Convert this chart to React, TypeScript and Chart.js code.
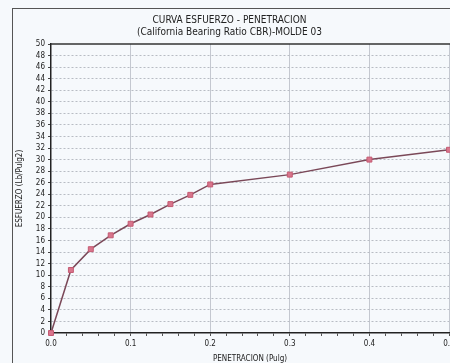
import React, { useEffect, useRef } from "react";
import { Chart, registerables } from "chart.js";

Chart.register(...registerables);

// Penetration (in) and stress (lb/in²) readings for mould 03
const penetracion = [0, 0.025, 0.05, 0.075, 0.1, 0.125, 0.15, 0.175, 0.2, 0.3, 0.4, 0.5];
const esfuerzo = [0, 10.9, 14.5, 16.9, 18.9, 20.5, 22.3, 23.9, 25.7, 27.4, 30.0, 31.7];

const tituloLineas = ["CURVA ESFUERZO - PENETRACION", "(California Bearing Ratio CBR)-MOLDE 03"];
const tituloX = "PENETRACION (Pulg)";
const tituloY = "ESFUERZO (Lb/Pulg2)";

const FONT = "'Liberation Sans Narrow', 'Arial Narrow', 'DejaVu Sans Condensed', sans-serif";
const BG = "#f6f9fc";

const isMajor = (v: number) => Math.abs(v * 10 - Math.round(v * 10)) < 1e-6;

// Dark outline along the top of the plotting area
const plotFrame = {
  id: "plotFrame",
  afterDraw(chart: any) {
    const { ctx, chartArea } = chart;
    ctx.save();
    ctx.strokeStyle = "#333";
    ctx.lineWidth = 1.5;
    ctx.beginPath();
    ctx.moveTo(chartArea.left, chartArea.top);
    ctx.lineTo(chartArea.right + 40, chartArea.top);
    ctx.stroke();
    ctx.restore();
  },
};

export default function App() {
  const canvasRef = useRef<HTMLCanvasElement | null>(null);

  useEffect(() => {
    if (!canvasRef.current) return;
    const chart = new Chart(canvasRef.current, {
      type: "line",
      data: {
        datasets: [
          {
            data: penetracion.map((x, i) => ({ x, y: esfuerzo[i] })),
            borderColor: "#7a4858",
            borderWidth: 1.5,
            pointStyle: "rect",
            pointRadius: 3.5,
            pointBackgroundColor: "#d8758c",
            pointBorderColor: "#c45a72",
            pointBorderWidth: 1,
            clip: false,
            tension: 0,
          },
        ],
      },
      options: {
        animation: false,
        responsive: false,
        layout: { padding: { left: 10, top: 8, right: 31, bottom: 16 } },
        plugins: {
          legend: { display: false },
          tooltip: { enabled: false },
          title: {
            display: true,
            text: tituloLineas,
            color: "#222",
            font: { family: FONT, size: 10, lineHeight: 1.27, weight: "normal" },
            padding: { top: 5.6, bottom: 5 },
          },
        },
        scales: {
          x: {
            type: "linear",
            min: 0,
            max: 0.5,
            afterBuildTicks: (scale: any) => {
              const t = [];
              for (let i = 0; i <= 25; i++) t.push({ value: i * 0.02 });
              scale.ticks = t;
            },
            afterFit: (scale: any) => {
              scale.height = 31;
              scale.paddingLeft = 0;
              scale.paddingRight = 0;
            },
            ticks: {
              autoSkip: false,
              maxRotation: 0,
              padding: 3,
              color: "#222",
              font: { family: FONT, size: 8 },
              callback: (v: any) => (isMajor(Number(v)) ? Number(v).toFixed(1) : ""),
            },
            grid: {
              color: (c: any) => (c.tick && isMajor(c.tick.value) && c.tick.value > 0 ? "#c4c8d0" : "rgba(0,0,0,0)"),
              tickColor: "#555",
              tickLength: 3,
              lineWidth: 1,
            },
            border: { color: "#222", width: 1.5 },
            title: {
              display: true,
              text: tituloX,
              color: "#222",
              font: { family: FONT, size: 8 },
              padding: { top: 0, bottom: 0 },
            },
          },
          y: {
            min: 0,
            max: 50,
            afterFit: (scale: any) => {
              scale.width = 41;
              scale.paddingTop = 0;
              scale.paddingBottom = 0;
            },
            ticks: {
              stepSize: 2,
              autoSkip: false,
              padding: 3,
              color: "#222",
              font: { family: FONT, size: 8 },
            },
            grid: {
              color: (c: any) => (c.tick && c.tick.value > 0 && c.tick.value < 50 ? "#b8bcc4" : "rgba(0,0,0,0)"),
              tickColor: "#444",
              tickLength: 3,
              tickBorderDash: [],
              lineWidth: 1,
            } as any,
            border: { color: "#222", width: 1.5, dash: [2, 2] },
            title: {
              display: true,
              text: tituloY,
              color: "#222",
              font: { family: FONT, size: 8 },
              padding: { top: 5.2, bottom: 0 },
            },
          },
        },
      } as any,
      plugins: [plotFrame],
    });
    return () => chart.destroy();
  }, []);

  return (
    <div
      style={{
        position: "fixed",
        left: 0,
        top: 0,
        width: 450,
        height: 363,
        overflow: "hidden",
        background: BG,
      }}
    >
      <div
        style={{
          position: "absolute",
          left: 12,
          top: 8,
          width: 500,
          height: 420,
          border: "1px solid #555",
          boxSizing: "border-box",
        }}
      />
      <canvas
        ref={canvasRef}
        width={480}
        height={380}
        style={{ position: "absolute", left: 0, top: 0, width: 480, height: 380 }}
      />
    </div>
  );
}
